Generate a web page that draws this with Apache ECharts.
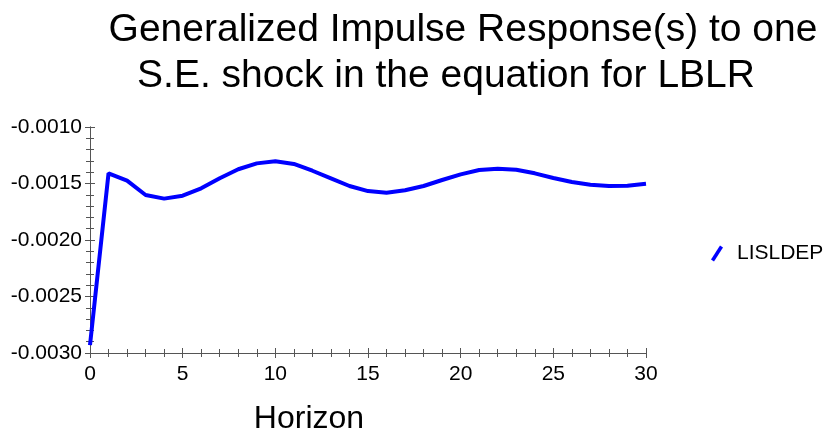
<!DOCTYPE html>
<html><head><meta charset="utf-8">
<script src="https://cdn.jsdelivr.net/npm/echarts@6/dist/echarts.min.js"></script>
<style>html,body{margin:0;padding:0;background:#fff}#c{width:829px;height:433px}</style>
</head><body><div id="c"></div>
<script>
var horizon = [0,1,2,3,4,5,6,7,8,9,10,11,12,13,14,15,16,17,18,19,20,21,22,23,24,25,26,27,28,29,30];
var lisldep = [-0.00293,-0.00141,-0.001475,-0.001602,-0.001634,-0.001608,-0.001543,-0.001454,-0.001374,-0.001322,-0.001304,-0.001327,-0.001387,-0.001454,-0.001522,-0.001567,-0.001581,-0.00156,-0.001522,-0.001469,-0.001419,-0.001381,-0.001369,-0.001378,-0.00141,-0.001451,-0.001487,-0.001511,-0.001522,-0.00152,-0.001502];
var titleLine1 = 'Generalized Impulse Response(s) to one';
var titleLine2 = 'S.E. shock in the equation for LBLR';
var seriesName = 'LISLDEP';
var xTitle = 'Horizon';

var font = '"Liberation Sans", Arial, sans-serif';
var chart = echarts.init(document.getElementById('c'), null, {renderer: 'canvas'});
var pts = horizon.map(function(h, i){ return [h, lisldep[i]]; });
var axisLine = {show: true, lineStyle: {color: '#555', width: 1}};
function yAxis(inside, show) {
  return {
    type: 'value', position: 'left', offset: 0,
    min: -0.003, max: -0.001, interval: 0.0005,
    axisLine: axisLine,
    axisTick: {show: true, inside: inside, length: 5, lineStyle: {color: '#555'}},
    minorTick: {show: true, splitNumber: 5, length: 4, lineStyle: {color: '#555'}},
    splitLine: {show: false}, minorSplitLine: {show: false},
    axisLabel: {show: show, color: '#000', fontSize: 21, fontFamily: font, margin: 8,
      formatter: function(v){ return v.toFixed(4); }}
  };
}
function xAxis(inside, show) {
  return {
    type: 'value', position: 'bottom', offset: 0,
    min: 0, max: 30, interval: 5,
    name: show ? xTitle : '', nameLocation: 'middle', nameGap: 50,
    nameTextStyle: {color: '#000', fontSize: 32, fontFamily: font, padding: [0, 118, 0, 0]},
    axisLine: axisLine,
    axisTick: {show: true, inside: inside, length: 5, lineStyle: {color: '#555'}},
    minorTick: {show: true, splitNumber: 5, length: 4, lineStyle: {color: '#555'}},
    splitLine: {show: false}, minorSplitLine: {show: false},
    axisLabel: {show: show, color: '#000', fontSize: 21, fontFamily: font, margin: 11}
  };
}
chart.setOption({
  animation: false,
  backgroundColor: '#fff',
  title: [
    {text: titleLine1, left: 458, top: 6, textAlign: 'center',
     textStyle: {color: '#000', fontSize: 39, fontWeight: 'normal', fontFamily: font}},
    {text: titleLine2, left: 441, top: 52, textAlign: 'center',
     textStyle: {color: '#000', fontSize: 39, fontWeight: 'normal', fontFamily: font}}
  ],
  legend: {
    orient: 'vertical', left: 706, top: 238,
    itemWidth: 14, itemHeight: 16, itemGap: 10,
    icon: 'path://M0,14 L9,0 L12,2 L3,16 Z',
    data: [{name: seriesName, itemStyle: {color: '#0000ff'}}],
    textStyle: {color: '#000', fontSize: 21, fontFamily: font, padding: [0,0,0,8]}
  },
  grid: {left: 90, right: 183, top: 127, bottom: 80, containLabel: false, outerBoundsMode: 'none'},
  xAxis: [xAxis(false, true), xAxis(true, false)],
  yAxis: [yAxis(false, true), yAxis(true, false)],
  series: [{
    name: seriesName, type: 'line', data: pts, showSymbol: false, symbol: 'none',
    xAxisIndex: 0, yAxisIndex: 0,
    lineStyle: {color: '#0000ff', width: 4}, itemStyle: {color: '#0000ff'}
  }]
});
</script></body></html>
